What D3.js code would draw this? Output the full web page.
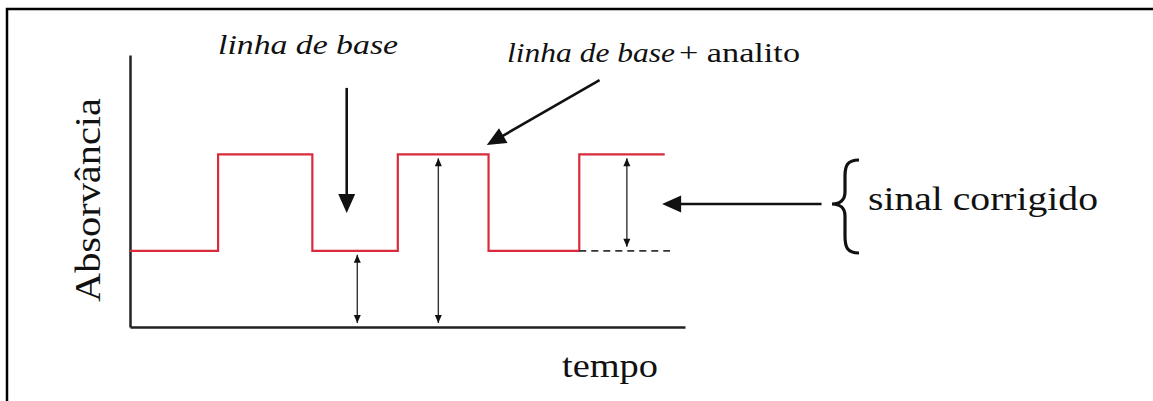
<!DOCTYPE html>
<html>
<head>
<meta charset="utf-8">
<script src="https://cdn.jsdelivr.net/npm/d3@7"></script>
<style>
  body { margin: 0; background: #fff; }
  svg { display: block; }
</style>
</head>
<body>
<div class="chart"></div>
<script>
var svgWidth = 1153;
var svgHeight = 401;
var serif = "'Liberation Serif', Tinos, 'Times New Roman', Times, serif";

// step signal: switching times and absorbance level after each switch
var stepTimes = [0, 1.0, 2.07, 3.04, 4.07, 5.1, 6.07];
var stepLevels = [0.28, 0.635, 0.28, 0.635, 0.28, 0.635, 0.635];

// double arrows (time, from level, to level)
var measureArrows = [
  { t: 2.58, from: 0, to: 0.28 },
  { t: 3.5, from: 0, to: 0.635 },
  { t: 5.64, from: 0.28, to: 0.635 }
];

// pointer arrows, in data units (start -> tip)
var pointers = [
  { t0: 2.46, a0: 0.879, t1: 2.46, a1: 0.419 },
  { t0: 5.33, a0: 0.908, t1: 4.05, a1: 0.669 },
  { t0: 7.85, a0: 0.452, t1: 6.04, a1: 0.452 }
];

// dashed continuation of the baseline
var dashed = { t0: 5.1, t1: 6.13, a: 0.28 };

var svg = d3.select(".chart")
  .append("svg")
  .attr("width", svgWidth)
  .attr("height", svgHeight);

// frame (only top and left edges visible)
svg.append("path")
  .attr("d", "M7,401V9H1153")
  .attr("fill", "none")
  .attr("stroke", "#000")
  .attr("stroke-width", 2.5);

var x = d3.scaleLinear().domain([0, 6.3]).range([130, 685]);
var y = d3.scaleLinear().domain([0, 1]).range([327, 55]);

// axes without ticks
svg.append("g")
  .attr("transform", `translate(0, ${y(0)})`)
  .call(d3.axisBottom(x).ticks(0).tickSizeOuter(0));
svg.append("g")
  .attr("transform", `translate(${x(0)}, 0)`)
  .call(d3.axisLeft(y).ticks(0).tickSizeOuter(0));
svg.selectAll(".domain")
  .attr("stroke", "#222")
  .attr("stroke-width", 2.5);

// red signal
var signal = stepTimes.map((t, i) => [t, stepLevels[i]]);
svg.append("path")
  .datum(signal)
  .attr("fill", "none")
  .attr("stroke", "#d92b3c")
  .attr("stroke-width", 2.2)
  .attr("d", d3.line().x(d => x(d[0])).y(d => y(d[1])).curve(d3.curveStepAfter));

// dashed baseline
svg.append("line")
  .attr("x1", x(dashed.t0)).attr("x2", x(dashed.t1))
  .attr("y1", y(dashed.a)).attr("y2", y(dashed.a))
  .attr("stroke", "#333")
  .attr("stroke-width", 1.6)
  .attr("stroke-dasharray", "7,5");

// helper: filled arrow head at (tx,ty) pointing along angle
function head(tx, ty, ang, len, wid) {
  var bx = tx - len * Math.cos(ang), by = ty - len * Math.sin(ang);
  var px = -Math.sin(ang) * wid / 2, py = Math.cos(ang) * wid / 2;
  svg.append("path")
    .attr("d", `M${tx},${ty}L${bx + px},${by + py}L${bx - px},${by - py}Z`)
    .attr("fill", "#111");
}

// measurement double arrows
measureArrows.forEach(function(d) {
  var xp = x(d.t), ya = y(d.from) - 4, yb = y(d.to) + 4;
  svg.append("line")
    .attr("x1", xp).attr("x2", xp)
    .attr("y1", ya).attr("y2", yb)
    .attr("stroke", "#333")
    .attr("stroke-width", 1.4);
  head(xp, ya, Math.PI / 2, 8, 7);
  head(xp, yb, -Math.PI / 2, 8, 7);
});

// pointer arrows
pointers.forEach(function(d) {
  var x0 = x(d.t0), y0 = y(d.a0), x1 = x(d.t1), y1 = y(d.a1);
  var ang = Math.atan2(y1 - y0, x1 - x0);
  svg.append("line")
    .attr("x1", x0).attr("y1", y0)
    .attr("x2", x1 - 10 * Math.cos(ang)).attr("y2", y1 - 10 * Math.sin(ang))
    .attr("stroke", "#111")
    .attr("stroke-width", 2.6);
  head(x1, y1, ang, 19, 17);
});

// curly brace
svg.append("path")
  .attr("d", "M859,160 C847,160 845,166 845,176 L845,192 C845,200 840,204 832,204 C840,204 845,208 845,216 L845,236 C845,247 847,253 859,253")
  .attr("fill", "none")
  .attr("stroke", "#111")
  .attr("stroke-width", 3.2);

// labels
function label(px, py, size, italic, len, str) {
  return svg.append("text")
    .attr("x", px).attr("y", py)
    .attr("font-family", serif)
    .attr("font-size", size)
    .attr("font-style", italic ? "italic" : "normal")
    .attr("fill", "#111")
    .attr("textLength", len)
    .attr("lengthAdjust", "spacingAndGlyphs")
    .text(str);
}

label(218, 54, 28, true, 180, "linha de base");
label(507, 62, 27, true, 168, "linha de base");
label(679, 62, 27, false, 121, "+ analito");
label(868, 210, 33, false, 230, "sinal corrigido");
label(562, 377, 33, false, 96, "tempo");

label(0, 0, 36, false, 204, "Absorvância")
  .attr("transform", "translate(100, 200) rotate(-90)")
  .attr("text-anchor", "middle");
</script>
</body>
</html>
